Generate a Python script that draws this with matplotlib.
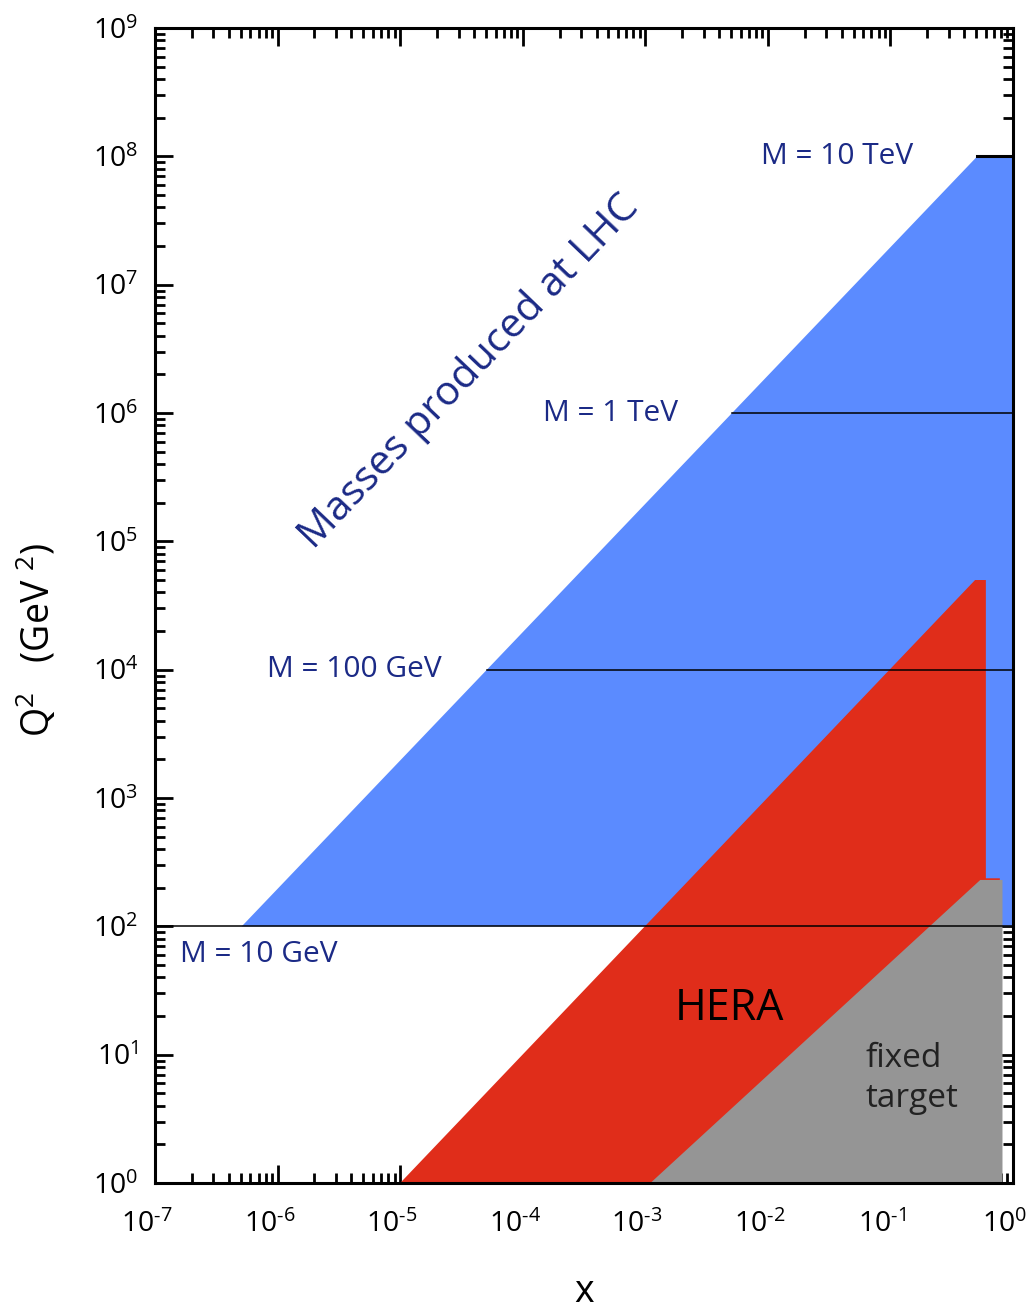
import math
import matplotlib
matplotlib.use("Agg")
import matplotlib.pyplot as plt
import matplotlib.transforms as mtransforms
from matplotlib.ticker import LogLocator, FuncFormatter, NullFormatter

plt.rcParams['font.family'] = ['Open Sans', 'DejaVu Sans']
plt.rcParams['mathtext.fontset'] = 'custom'
plt.rcParams['mathtext.rm'] = 'Open Sans'
plt.rcParams['mathtext.it'] = 'Open Sans:italic'
plt.rcParams['axes.unicode_minus'] = False

# kinematic region reachable at the LHC (x, Q^2 corners)
lhc_x = [5.1e-7, 0.51, 1.0, 1.0]
lhc_q2 = [1e2, 1e8, 1e8, 1e2]

# HERA region
hera_x = [1e-5, 0.49, 0.6, 0.6, 0.78, 0.78]
hera_q2 = [1.0, 5e4, 5e4, 237, 237, 1.0]

# fixed target experiments
fixed_x = [1.1e-3, 0.54, 0.82, 0.82]
fixed_q2 = [1.0, 230, 230, 1.0]

# lines of constant produced mass M (Q^2 = M^2)
mass_labels = ["M = 10 GeV", "M = 100 GeV", "M = 1 TeV", "M = 10 TeV"]
mass_q2 = [1e2, 1e4, 1e6, 1e8]
mass_xmin = [1e-7, 5.1e-5, 5.1e-3, 0.51]

navy = '#1b2a86'
blue = '#5b8bff'
red = '#e02d1a'
grey = '#959595'

fig = plt.figure(figsize=(10.29, 13.11), dpi=100)
ax = fig.add_axes([0.1506, 0.0976, 0.8339, 0.881])
ax.set_xscale('log')
ax.set_yscale('log')
ax.set_xlim(1e-7, 1)
ax.set_ylim(1, 1e9)
# filled regions hide the inward ticks
ax.set_axisbelow(True)

ax.fill(lhc_x, lhc_q2, color=blue, lw=0, zorder=1)
ax.fill(hera_x, hera_q2, color=red, lw=0, zorder=2)
ax.fill(fixed_x, fixed_q2, color=grey, lw=0, zorder=3)

for i, (q2, xm) in enumerate(zip(mass_q2, mass_xmin)):
    lw = 2.2 if i == 3 else 1.1
    ax.plot([xm, 1.0], [q2, q2], color='black', lw=lw, zorder=4)

# mass labels: left of each line, the lowest one under its line
ax.text(1.6e-7, 60, mass_labels[0], color=navy, fontsize=21.5, ha='left', va='center')
ax.text(2.2e-5, 1e4, mass_labels[1], color=navy, fontsize=21.5, ha='right', va='center')
ax.text(1.85e-3, 1e6, mass_labels[2], color=navy, fontsize=21.5, ha='right', va='center')
ax.text(0.152, 1e8, mass_labels[3], color=navy, fontsize=21.5, ha='right', va='center')

ax.text(3.7e-5, 2.1e6, "Masses produced at LHC", color=navy, fontsize=29.5,
        rotation=46.3, ha='center', va='center', rotation_mode='anchor')
ax.text(4.9e-3, 23, "HERA", color='black', fontsize=31, ha='center', va='center')
ax.text(0.063, 6.5, "fixed\ntarget", color='#222222', fontsize=24,
        ha='left', va='center', linespacing=1.3)

for s in ax.spines.values():
    s.set_linewidth(2.2)
    s.set_zorder(6)

ax.xaxis.set_major_locator(LogLocator(base=10, numticks=20))
ax.yaxis.set_major_locator(LogLocator(base=10, numticks=20))
ax.xaxis.set_minor_locator(LogLocator(base=10, subs=range(2, 10), numticks=20))
ax.yaxis.set_minor_locator(LogLocator(base=10, subs=range(2, 10), numticks=20))


def decade(v, pos):
    e = round(math.log10(v))
    sign = '\u2010' if e < 0 else ''
    return r'$\mathregular{10^{%s%d}}$' % (sign, abs(e))


ax.xaxis.set_major_formatter(FuncFormatter(decade))
ax.yaxis.set_major_formatter(FuncFormatter(decade))
ax.xaxis.set_minor_formatter(NullFormatter())
ax.yaxis.set_minor_formatter(NullFormatter())

ax.tick_params(which='both', direction='in', top=True, right=True, width=2, color='black')
ax.tick_params(which='major', length=13)
ax.tick_params(which='minor', length=7)
ax.tick_params(axis='x', which='major', pad=20, labelsize=20.5)
ax.tick_params(axis='y', which='major', pad=12, labelsize=20.5)

# x tick labels sit a little left of their ticks
shift = mtransforms.ScaledTranslation(-0.08, 0, fig.dpi_scale_trans)
for t in ax.get_xticklabels():
    t.set_transform(t.get_transform() + shift)

ax.set_xlabel("x", fontsize=27, labelpad=24)
ax.set_ylabel(r"Q$^2$   (GeV $^2$)", fontsize=27)
ax.yaxis.set_label_coords(-0.112, 0.47)

fig.savefig("out.png", dpi=100)
